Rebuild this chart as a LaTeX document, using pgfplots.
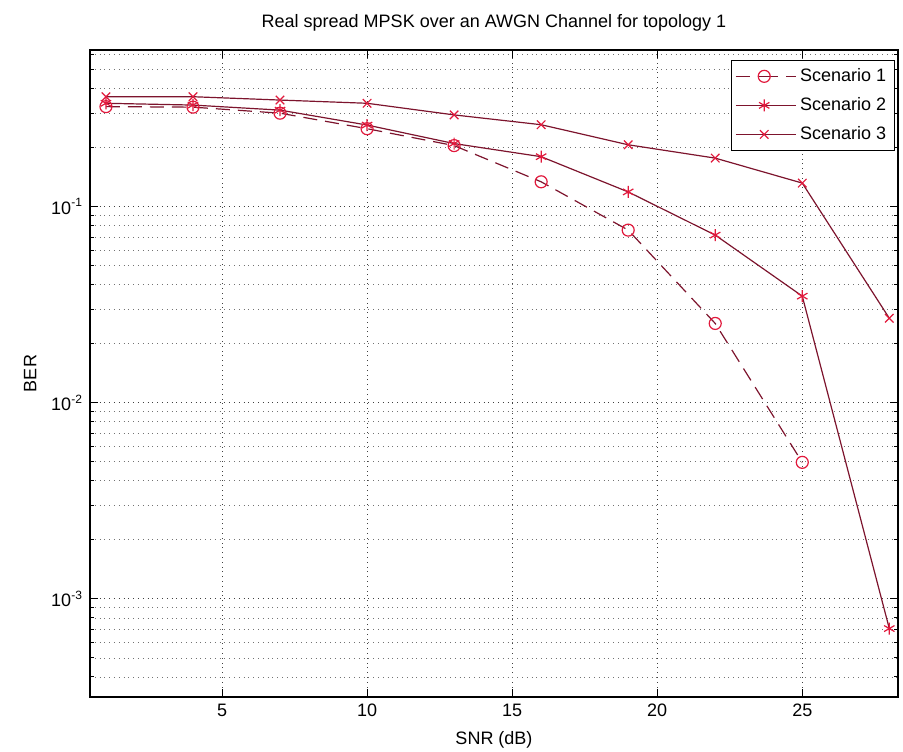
\documentclass[border=0pt]{standalone}
\usepackage{fontspec}
\setmainfont{Liberation Sans}
\usepackage{pgfplots}
\pgfplotsset{compat=1.18}
\definecolor{linec}{RGB}{125,20,45}
\definecolor{markc}{RGB}{225,25,60}
\begin{document}
\begin{tikzpicture}
\begin{semilogyaxis}[
  scale only axis,
  width=404pt, height=323.5pt,
  xmin=0.45, xmax=28.3,
  ymin=3.16e-4, ymax=0.63,
  xtick={5,10,15,20,25},
  ytick={1e-3,1e-2,1e-1},
  yticklabels={10\textsuperscript{-3},10\textsuperscript{-2},10\textsuperscript{-1}},
  minor ytick={2e-4,3e-4,4e-4,5e-4,6e-4,7e-4,8e-4,9e-4,2e-3,3e-3,4e-3,5e-3,6e-3,7e-3,8e-3,9e-3,2e-2,3e-2,4e-2,5e-2,6e-2,7e-2,8e-2,9e-2,0.2,0.3,0.4,0.5,0.6},
  tick align=inside,
  major tick length=4pt, minor tick length=2pt,
  grid=both,
  major grid style={black!75, dotted, line width=0.5pt},
  minor grid style={black!55, dotted, line width=0.4pt},
  axis line style={black, line width=0.6pt},
  tick style={black, line width=0.5pt},
  font=\fontsize{9}{10}\selectfont,
  tick label style={font=\fontsize{9}{10}\selectfont},
  /pgf/number format/assume math mode=true,
  every axis title shift=0pt,
  title={Real spread MPSK over an AWGN Channel for topology 1},
  title style={font=\fontsize{9}{10}\selectfont, at={(axis description cs:0.5,1.042)}, anchor=center},
  xlabel={SNR (dB)},
  ylabel={BER},
  xlabel style={at={(axis description cs:0.5,-0.0665)}, anchor=center},
  ylabel style={at={(axis description cs:-0.074,0.5)}, anchor=center},
  legend cell align=left,
  legend style={font=\fontsize{9}{10}\selectfont, draw=black, line width=0.6pt, inner sep=2pt, row sep=2.5pt, at={(0.996,0.985)}, anchor=north east},
  legend image post style={line width=0.6pt},
  legend image code/.code={\draw[#1] (0cm,0cm) -- (0.5cm,0cm) plot coordinates {(0.5cm,0cm)} -- (1.05cm,0cm);},
]
\addplot[linec, line width=0.6pt, dash pattern=on 7pt off 4pt, mark=o, mark size=3pt, mark options={markc, solid}] coordinates {
  (1,0.324) (4,0.322) (7,0.300) (10,0.250) (13,0.205) (16,0.134) (19,0.076) (22,0.0254) (25,0.00497)
};
\addlegendentry{Scenario 1}
\addplot[linec, line width=0.6pt, mark=asterisk, mark size=3pt, mark options={markc, solid}] coordinates {
  (1,0.337) (4,0.330) (7,0.311) (10,0.261) (13,0.210) (16,0.180) (19,0.119) (22,0.0717) (25,0.0350) (28,7.06e-4)
};
\addlegendentry{Scenario 2}
\addplot[linec, line width=0.6pt, mark=x, mark size=3pt, mark options={markc, solid}] coordinates {
  (1,0.364) (4,0.364) (7,0.350) (10,0.337) (13,0.294) (16,0.262) (19,0.207) (22,0.177) (25,0.132) (28,0.027)
};
\addlegendentry{Scenario 3}
\end{semilogyaxis}
\pgfresetboundingbox
\path[use as bounding box] ([shift={(-45pt,-27.5pt)}]current axis.south west) rectangle ([shift={(2.5pt,25pt)}]current axis.north east);
\end{tikzpicture}
\end{document}
